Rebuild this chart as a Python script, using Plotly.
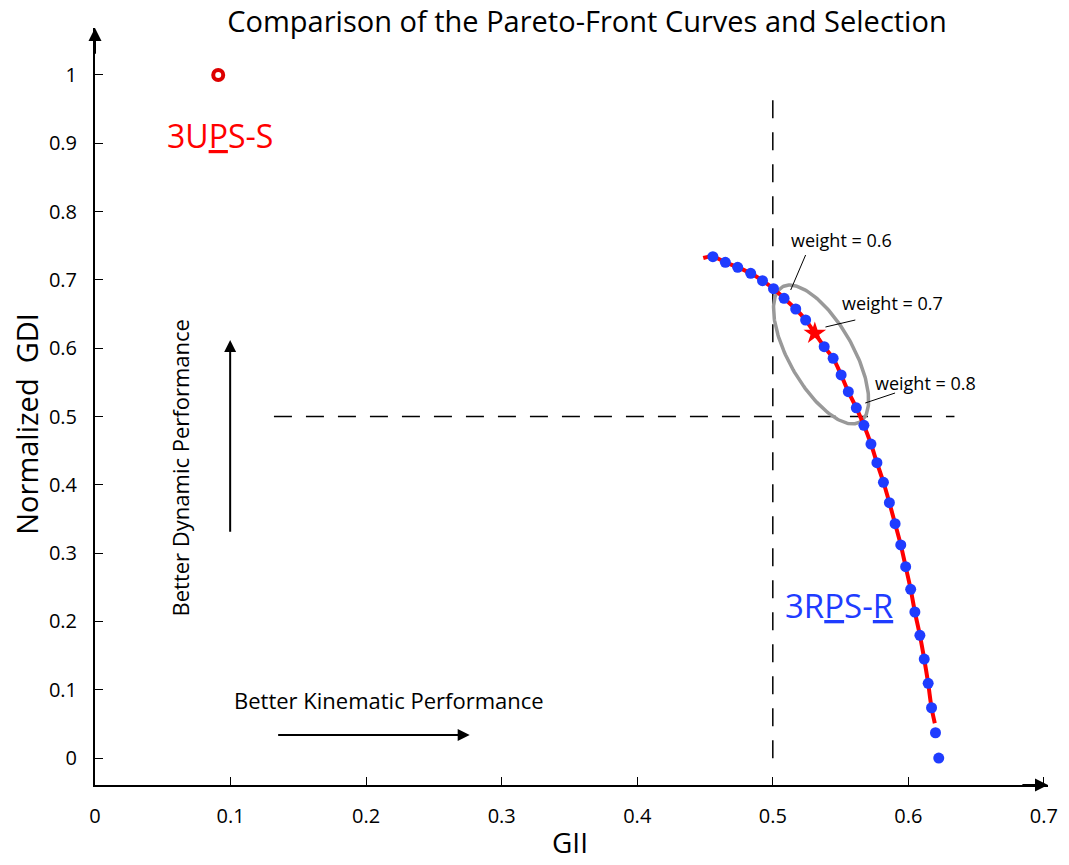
import numpy as np
import plotly.graph_objects as go

# ---------------- data ----------------
front_x = [0.4558, 0.4650, 0.4741, 0.4837, 0.4924, 0.5005, 0.5083, 0.5169, 0.5242,
           0.5310, 0.5379, 0.5445, 0.5504, 0.5557, 0.5616, 0.5672, 0.5724, 0.5768,
           0.5816, 0.5860, 0.5902, 0.5944, 0.5980, 0.6017, 0.6048, 0.6085, 0.6117,
           0.6146, 0.6171, 0.6200, 0.6224]
front_y = [0.7340, 0.7258, 0.7184, 0.7096, 0.6988, 0.6871, 0.6731, 0.6574, 0.6413,
           0.6218, 0.6022, 0.5852, 0.5608, 0.5363, 0.5127, 0.4871, 0.4597, 0.4324,
           0.4037, 0.3738, 0.3431, 0.3119, 0.2801, 0.2470, 0.2138, 0.1797, 0.1449,
           0.1094, 0.0736, 0.0370, 0.0000]
# indices of selected blue points (the star is index 9, not drawn as a dot)
dot_idx = [i for i in range(len(front_x)) if i != 9]

curve_x = [0.4487] + front_x[:29] + [0.6195]
curve_y = [0.7320] + front_y[:29] + [0.0510]

star_x, star_y = [0.5310], [0.6218]
ups_x, ups_y = [0.0909], [1.0]

x_ticks = [0, 0.1, 0.2, 0.3, 0.4, 0.5, 0.6, 0.7]
x_tick_text = ["0", "0.1", "0.2", "0.3", "0.4", "0.5", "0.6", "0.7"]
y_ticks = [0, 0.1, 0.2, 0.3, 0.4, 0.5, 0.6, 0.7, 0.8, 0.9, 1.0]
y_tick_text = ["0", "0.1", "0.2", "0.3", "0.4", "0.5", "0.6", "0.7", "0.8", "0.9", "1"]

# ---------------- layout constants ----------------
FONT = "Open Sans"
XR = [0, 0.703]
YR = [-0.0395, 1.0688]
XS, YS = 1364.0, 683.0  # pixels per data unit (for ellipse geometry)

BLUE = "#1f3cff"
RED = "#ff0000"

fig = go.Figure()

# dashed guide lines
fig.add_trace(go.Scatter(x=[0.5, 0.5], y=[0.963, -0.018], mode="lines",
                         line=dict(color="black", width=1.5, dash="18px,14px"),
                         hoverinfo="skip", showlegend=False))
fig.add_trace(go.Scatter(x=[0.132, 0.634], y=[0.5, 0.5], mode="lines",
                         line=dict(color="black", width=1.5, dash="18px,14px"),
                         hoverinfo="skip", showlegend=False))

# ellipse around weight 0.6 - 0.8
t = np.linspace(0, 2 * np.pi, 200)
ecx, ecy = 0.5356, 0.5908
ea, eb, ang = 78.0, 32.0, np.deg2rad(60.0)
px = ea * np.cos(t) * np.cos(ang) - eb * np.sin(t) * np.sin(ang)
py = ea * np.cos(t) * np.sin(ang) + eb * np.sin(t) * np.cos(ang)
fig.add_trace(go.Scatter(x=ecx + px / XS, y=ecy - py / YS, mode="lines",
                         line=dict(color="#999999", width=3.5),
                         hoverinfo="skip", showlegend=False))

# red pareto curve
fig.add_trace(go.Scatter(x=curve_x, y=curve_y, mode="lines",
                         line=dict(color=RED, width=4, shape="spline"),
                         showlegend=False))
# blue dots
fig.add_trace(go.Scatter(x=[front_x[i] for i in dot_idx], y=[front_y[i] for i in dot_idx],
                         mode="markers", marker=dict(color=BLUE, size=11),
                         showlegend=False, cliponaxis=False))
# selected star
fig.add_trace(go.Scatter(x=star_x, y=star_y, mode="markers",
                         marker=dict(symbol="star", color=RED, size=17, line=dict(width=0)),
                         showlegend=False))
# 3UPS-S point
fig.add_trace(go.Scatter(x=ups_x, y=ups_y, mode="markers",
                         marker=dict(symbol="circle-open", color="#dd0000", size=10,
                                     line=dict(width=4, color="#dd0000")),
                         showlegend=False))

ann = []
U = '<span style="text-decoration:underline">'
ann.append(dict(x=0.0513, y=0.912, xref="x", yref="y", xanchor="left", yanchor="middle",
                text="3U" + U + "P</span>S-S", showarrow=False,
                font=dict(family=FONT, size=32, color=RED)))
ann.append(dict(x=0.5073, y=0.224, xref="x", yref="y", xanchor="left", yanchor="middle",
                text="3R" + U + "P</span>S-" + U + "R</span>", showarrow=False,
                font=dict(family=FONT, size=33, color=BLUE)))

# weight labels with leader lines
wl = [
    ("weight = 0.6", (793, 240), (810, 255), (795, 290)),
    ("weight = 0.7", (845, 303), (860, 320), (830, 327)),
    ("weight = 0.8", (878, 383), (900, 393), (870, 403)),
]
def d(pxp, pyp):
    return (pxp - 95) / XS, (758 - pyp) / YS
for txt, tpos, l0, l1 in wl:
    tx, ty = d(*tpos)
    ann.append(dict(x=tx, y=ty, xref="x", yref="y", xanchor="left", yanchor="middle",
                    text=txt, showarrow=False, font=dict(family=FONT, size=18, color="black")))
    x0, y0 = d(*l0)
    x1, y1 = d(*l1)
    fig.add_trace(go.Scatter(x=[x0, x1], y=[y0, y1], mode="lines",
                             line=dict(color="black", width=1), hoverinfo="skip",
                             showlegend=False))

# "better" arrows
ann.append(dict(x=0.2764, y=0.0337, ax=0.134, ay=0.0337, xref="x", yref="y",
                axref="x", ayref="y", showarrow=True, arrowhead=2, arrowsize=1.2,
                arrowwidth=2, arrowcolor="black", text=""))
ann.append(dict(x=0.0997, y=0.612, ax=0.0997, ay=0.329, xref="x", yref="y",
                axref="x", ayref="y", showarrow=True, arrowhead=2, arrowsize=1.2,
                arrowwidth=2, arrowcolor="black", text=""))
ann.append(dict(x=(233 - 95) / XS, y=(758 - 700) / YS, xref="x", yref="y",
                xanchor="left", yanchor="middle", text="Better Kinematic Performance",
                showarrow=False, font=dict(family=FONT, size=22, color="black")))
ann.append(dict(x=(181 - 95) / XS, y=(758 - 468) / YS, xref="x", yref="y",
                xanchor="center", yanchor="middle", text="Better Dynamic Performance",
                textangle=-90, showarrow=False, font=dict(family=FONT, size=22, color="black")))

# axis arrowheads
ann.append(dict(x=XR[1], y=YR[0], ax=XR[1] - 0.02, ay=YR[0], xref="x", yref="y",
                axref="x", ayref="y", showarrow=True, arrowhead=2, arrowsize=1.3,
                arrowwidth=2, arrowcolor="black", text=""))
ann.append(dict(x=0, y=YR[1], ax=0, ay=YR[1] - 0.04, xref="x", yref="y",
                axref="x", ayref="y", showarrow=True, arrowhead=2, arrowsize=1.3,
                arrowwidth=2, arrowcolor="black", text=""))

# axis titles
ann.append(dict(x=(575 - 95) / 963, y=(785 - 863) / 757, xref="paper", yref="paper",
                xanchor="center", yanchor="bottom", text="GII", showarrow=False,
                font=dict(family=FONT, size=28, color="black")))
ann.append(dict(x=(25 - 95) / 963, y=(785 - 424) / 757, xref="paper", yref="paper",
                xanchor="center", yanchor="middle", text="Normalized  GDI", textangle=-90,
                showarrow=False, font=dict(family=FONT, size=29, color="black")))

fig.update_layout(
    width=1069, height=865,
    margin=dict(l=95, r=11, t=28, b=80),
    paper_bgcolor="white", plot_bgcolor="white",
    title=dict(text="Comparison of the Pareto-Front Curves and Selection",
               x=587 / 1069, xanchor="center", y=1 - 22 / 865, yanchor="middle",
               font=dict(family=FONT, size=29, color="black")),
    annotations=ann,
    showlegend=False,
)
fig.update_xaxes(range=XR, tickvals=x_ticks, ticktext=x_tick_text, showgrid=False,
                 zeroline=False, showline=True, linecolor="black", linewidth=2,
                 ticks="inside", ticklen=8, tickcolor="black", tickwidth=1,
                 ticklabelstandoff=12, tickfont=dict(family=FONT, size=20, color="black"))
fig.update_yaxes(range=YR, tickvals=y_ticks, ticktext=y_tick_text, showgrid=False,
                 zeroline=False, showline=True, linecolor="black", linewidth=2,
                 ticks="inside", ticklen=8, tickcolor="black", tickwidth=1,
                 ticklabelstandoff=12, tickfont=dict(family=FONT, size=20, color="black"))

fig.write_html("out.html")
